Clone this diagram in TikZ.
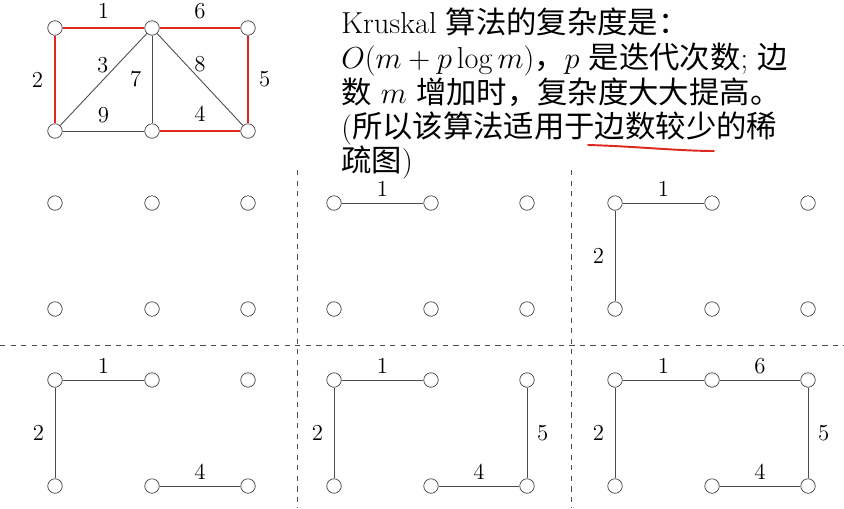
\documentclass[tikz,border=0pt]{standalone}
\usepackage{fontspec}
\newfontfamily\cjk{Noto Sans CJK SC}
\usetikzlibrary{positioning}
\definecolor{kred}{RGB}{222,40,30}

\begin{document}
\begin{tikzpicture}[
        x=0.02cm, y=-0.02cm,
        vtx/.style={circle,draw=black!75,fill=white,inner sep=0pt,minimum size=0.29cm},
        edg/.style={draw=black!70,line width=0.5pt},
        redg/.style={draw=kred,line width=1.6pt},
        lbl/.style={font=\fontsize{13}{15}\selectfont,inner sep=2pt},
        up/.style={lbl,above=2.5pt},
        lup/.style={lbl,above=1.2pt},
        lt/.style={lbl,left=4pt},
        rt/.style={lbl,right=3.5pt},
        txt/.style={anchor=base west,inner sep=0pt,font=\fontsize{17.28}{20}\selectfont},
        sep/.style={draw=black!70,dashed,line width=0.5pt}
    ]
    \useasboundingbox (0,0) rectangle (844,508);

    % the whole graph
    \node[vtx] (a1) at (55,28)   {};
    \node[vtx] (a2) at (152,28)  {};
    \node[vtx] (a3) at (248,28)  {};
    \node[vtx] (b1) at (55,131)  {};
    \node[vtx] (b2) at (152,131) {};
    \node[vtx] (b3) at (248,131) {};
    \draw[redg] (a1) -- node[up]{1} (a2);
    \draw[redg] (a1) -- node[lt]{2} (b1);
    \draw[edg]  (a2) -- node[lbl,above=2pt,pos=0.51]{3} (b1);
    \draw[redg] (b2) -- node[up]{4} (b3);
    \draw[redg] (a3) -- node[rt]{5} (b3);
    \draw[redg] (a2) -- node[up]{6} (a3);
    \draw[edg]  (a2) -- node[lbl,left=3.8pt]{7} (b2);
    \draw[edg]  (a2) -- node[lbl,above=2pt,pos=0.5]{8} (b3);
    \draw[edg]  (b1) -- node[up]{9} (b2);

    % text
    \node[txt] (t1) at (341,33)  {Kruskal {\cjk 算法的复杂度是：}};
    \node[txt] (t2) at (341,68)  {$O(m+p\log m)${\cjk ，}$p$ {\cjk 是迭代次数}; {\cjk 边}};
    \node[txt] (t3) at (341,103) {{\cjk 数} $m$ {\cjk 增加时，复杂度大大提高。}};
    \node[txt] (t4) at (341,137) {({\cjk 所以该算法适用于边数较少的稀}};
    \node[txt] (t5) at (341,171) {{\cjk 疏图})};
    \draw[kred,line width=1.1pt,line cap=round] (588,145) .. controls (630,146) and (680,151) .. (714,151);

    % separators
    \draw[sep] (0,345) -- (844,345);
    \draw[sep] (297,170) -- (297,508);
    \draw[sep] (571,170) -- (571,508);

    % six steps
    \foreach \p/\dx/\dy in {1/0/0,2/279/0,3/560/0,4/0/177,5/279/177,6/560/177}{
        \foreach \c/\x in {1/55,2/152,3/248}{
            \node[vtx] (p\p a\c) at (\x+\dx,203+\dy) {};
            \node[vtx] (p\p b\c) at (\x+\dx,309+\dy) {};
        }
    }
    \draw[edg] (p2a1) -- node[lup]{1} (p2a2);
    \foreach \p in {3,4,5,6}{
        \draw[edg] (p\p a1) -- node[lup]{1} (p\p a2);
        \draw[edg] (p\p a1) -- node[lt]{2} (p\p b1);
    }
    \foreach \p in {4,5,6}
        \draw[edg] (p\p b2) -- node[lup]{4} (p\p b3);
    \foreach \p in {5,6}
        \draw[edg] (p\p a3) -- node[rt]{5} (p\p b3);
    \draw[edg] (p6a2) -- node[lup]{6} (p6a3);
\end{tikzpicture}
\end{document}
